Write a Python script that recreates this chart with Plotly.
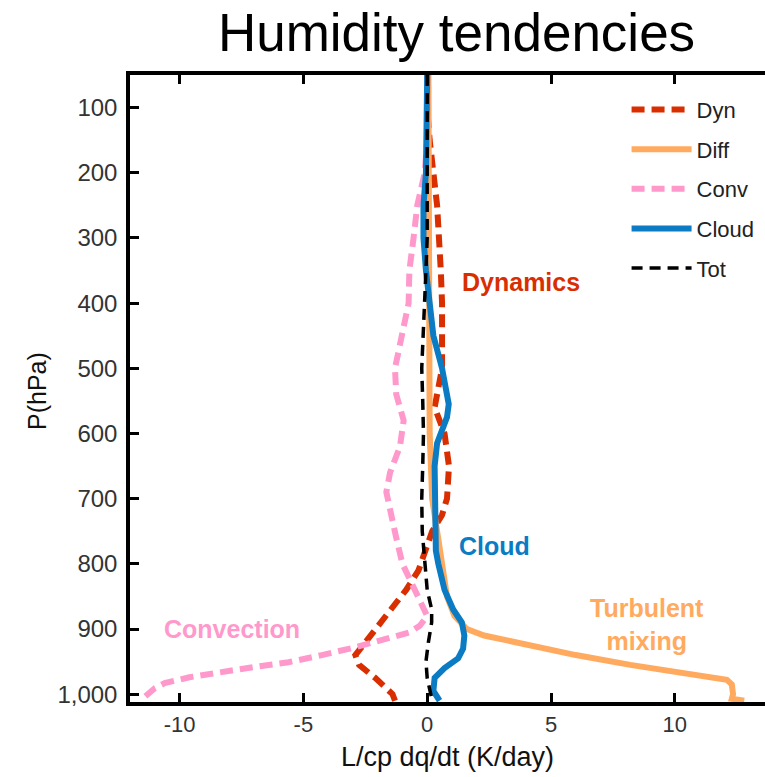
import plotly.graph_objects as go

# ---------------- data ----------------
dyn_p = [50, 100, 150, 175, 200, 250, 300, 350, 400, 450, 500, 540, 560, 600, 650, 700, 725, 750,
         780, 810, 840, 875, 900, 925, 940, 955, 975, 1000, 1010]
dyn_v = [0.0, 0.0, 0.1, 0.15, 0.25, 0.4, 0.5, 0.55, 0.6, 0.62, 0.6, 0.4, 0.3, 0.7, 0.88, 0.8, 0.6, 0.2,
         -0.1, -0.35, -0.85, -1.55, -2.1, -2.6, -2.9, -2.75, -2.1, -1.4, -1.3]

diff_p = [50, 100, 200, 300, 400, 500, 600, 700, 750, 800, 850, 880, 900, 910, 925, 940, 955, 970,
          978, 985, 1000, 1007, 1010]
diff_v = [0.05, 0.05, 0.1, 0.1, 0.05, 0.05, 0.1, 0.2, 0.4, 0.65, 0.8, 1.1, 1.6, 2.3, 4.2, 6.0, 8.2, 11.0,
          12.1, 12.3, 12.35, 12.3, 12.8]

conv_p = [50, 100, 150, 200, 250, 300, 350, 400, 450, 500, 540, 580, 620, 660, 690, 720, 760, 800,
          830, 860, 880, 895, 905, 915, 928, 940, 951, 958, 966, 974, 983, 991, 1004, 1010]
conv_v = [0.0, 0.0, 0.0, -0.1, -0.4, -0.55, -0.72, -0.75, -1.0, -1.3, -1.25, -0.95, -1.1, -1.5, -1.65,
          -1.5, -1.25, -1.0, -0.65, -0.25, 0.0, -0.3, -0.7, -1.6, -2.9, -4.25, -5.6, -6.95, -8.3, -9.6,
          -10.6, -11.0, -11.4, -11.6]

cloud_p = [50, 100, 150, 200, 250, 300, 350, 400, 450, 500, 530, 555, 575, 595, 615, 650, 700, 750,
           780, 800, 840, 870, 890, 910, 930, 945, 960, 975, 995, 1010]
cloud_v = [0.0, 0.0, -0.05, -0.05, -0.15, -0.15, -0.05, 0.1, 0.25, 0.6, 0.75, 0.87, 0.8, 0.6, 0.4, 0.3,
           0.3, 0.3, 0.35, 0.45, 0.7, 1.05, 1.4, 1.5, 1.45, 1.25, 0.7, 0.3, 0.25, 0.5]

tot_p = [50, 100, 200, 300, 350, 400, 450, 500, 550, 600, 650, 700, 750, 800, 840, 870, 890, 920, 950,
         975, 1000, 1010]
tot_v = [0.0, 0.0, 0.0, 0.0, -0.05, -0.1, -0.18, -0.22, -0.18, -0.15, -0.18, -0.22, -0.2, -0.1, 0.0,
         0.18, 0.18, 0.05, -0.05, 0.0, 0.15, 0.2]

x_ticks = [-10, -5, 0, 5, 10]
x_tick_labels = ["-10", "-5", "0", "5", "10"]
y_ticks = [100, 200, 300, 400, 500, 600, 700, 800, 900, 1000]
y_tick_labels = ["100", "200", "300", "400", "500", "600", "700", "800", "900", "1,000"]

# ---------------- styling ----------------
RED = "#D92E00"
ORANGE = "#FFAA5E"
PINK = "#FF99CC"
BLUE = "#0B7CC3"
BLACK = "#000000"
FONT = "Liberation Sans, Arial, sans-serif"
TICKCOL = "#333333"

fig = go.Figure()
series = [
    ("Dyn", dyn_v, dyn_p, RED, 6, "13px,7px"),
    ("Diff", diff_v, diff_p, ORANGE, 6, "solid"),
    ("Conv", conv_v, conv_p, PINK, 6, "13px,7px"),
    ("Cloud", cloud_v, cloud_p, BLUE, 6, "solid"),
    ("Tot", tot_v, tot_p, BLACK, 3.5, "11px,7px"),
]
for i, (name, xv, yv, col, w, dash) in enumerate(series):
    fig.add_trace(go.Scatter(x=xv, y=yv, mode="lines", name=name, legendgroup=name,
                             line=dict(color=col, width=w, dash=dash)))

W, H = 765, 777
ML, MR, MT, MB = 130, 0, 75, 75

fig.update_layout(
    width=W, height=H,
    margin=dict(l=ML, r=MR, t=MT, b=MB),
    paper_bgcolor="white", plot_bgcolor="white",
    font=dict(family=FONT, color="#222222"),
    title=dict(text="Humidity tendencies", font=dict(size=53, color="#000000", family=FONT),
               x=456.5 / W, xanchor="center", y=1 - 32 / H, yanchor="middle"),
    showlegend=True,
    legend=dict(x=0.782, y=0.978, xanchor="left", yanchor="top", bgcolor="rgba(0,0,0,0)",
                font=dict(size=22, color="#222222"), traceorder="grouped", tracegroupgap=8,
                itemwidth=60),
    xaxis=dict(range=[-12, 13.64], tickvals=x_ticks, ticktext=x_tick_labels,
               ticks="inside", ticklen=9, tickwidth=2.5, tickcolor="black",
               showline=True, linewidth=3.5, linecolor="black", mirror="ticks",
               showgrid=False, zeroline=False, tickfont=dict(size=22, color=TICKCOL)),
    yaxis=dict(range=[1012, 50], tickvals=y_ticks, ticktext=y_tick_labels,
               ticks="inside", ticklen=9, tickwidth=2.5, tickcolor="black",
               showline=True, linewidth=3.5, linecolor="black", mirror=False,
               showgrid=False, zeroline=False, tickfont=dict(size=24, color=TICKCOL),
               ticklabelstandoff=4),
)

annots = [
    dict(text="Dynamics", x=1.31, y=367, xanchor="left", color=RED),
    dict(text="Cloud", x=1.19, y=773, xanchor="left", color=BLUE),
    dict(text="Convection", x=-10.72, y=900, xanchor="left", color=PINK),
    dict(text="Turbulent<br>mixing", x=8.86, y=893, xanchor="center", color=ORANGE),
]
for a in annots:
    fig.add_annotation(x=a["x"], y=a["y"], xref="x", yref="y", text="<b>" + a["text"] + "</b>",
                       showarrow=False, xanchor=a["xanchor"], yanchor="middle",
                       font=dict(size=25, color=a["color"], family=FONT))

# axis titles
fig.add_annotation(text="P(hPa)", xref="paper", yref="paper", x=(37 - ML) / (W - ML - MR),
                   y=1 - (391 - MT) / (H - MT - MB), textangle=-90, showarrow=False,
                   xanchor="center", yanchor="middle", font=dict(size=25, color="#111111", family=FONT))
fig.add_annotation(text="L/cp dq/dt (K/day)", xref="paper", yref="paper", x=(447 - ML) / (W - ML - MR),
                   y=-(757 - (H - MB)) / (H - MT - MB), showarrow=False,
                   xanchor="center", yanchor="middle", font=dict(size=27, color="#111111", family=FONT))

fig.write_html("out.html", config={"displayModeBar": False},
               post_script="document.body.style.margin='0px';document.body.style.overflow='hidden';")
